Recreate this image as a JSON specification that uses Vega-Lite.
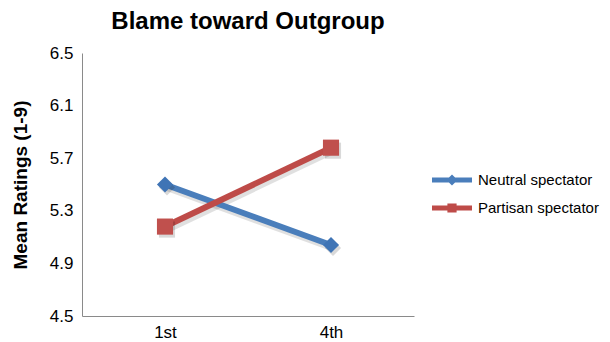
{
  "$schema": "https://vega.github.io/schema/vega-lite/v6.json",
  "width": 332,
  "height": 263,
  "autosize": {"type": "none"},
  "padding": {"left": 82, "top": 53, "right": 196, "bottom": 26},
  "background": "white",
  "config": {
    "font": "Liberation Sans",
    "view": {"stroke": null},
    "axis": {
      "domainColor": "#8a8a8a",
      "domainWidth": 1,
      "ticks": false,
      "grid": false,
      "labelColor": "#000000",
      "labelFont": "Liberation Sans",
      "titleColor": "#000000"
    }
  },
  "title": {
    "text": "Blame toward Outgroup",
    "fontSize": 24,
    "fontWeight": "bold",
    "font": "Liberation Sans",
    "color": "#000000",
    "anchor": "middle",
    "offset": 10
  },
  "data": {
    "values": [
      {"round": "1st", "group": "Neutral spectator", "rating": 5.50},
      {"round": "4th", "group": "Neutral spectator", "rating": 5.04},
      {"round": "1st", "group": "Partisan spectator", "rating": 5.18},
      {"round": "4th", "group": "Partisan spectator", "rating": 5.78}
    ]
  },
  "encoding": {
    "x": {
      "field": "round",
      "type": "ordinal",
      "scale": {"padding": 0.5},
      "axis": {
        "title": null,
        "labelAngle": 0,
        "labelFontSize": 17,
        "labelPadding": 8
      }
    },
    "y": {
      "field": "rating",
      "type": "quantitative",
      "scale": {"domain": [4.5, 6.5], "nice": false, "zero": false},
      "axis": {
        "title": "Mean Ratings (1-9)",
        "titleFontSize": 19,
        "titleFontWeight": "bold",
        "titlePadding": 19,
        "values": [4.5, 4.9, 5.3, 5.7, 6.1, 6.5],
        "format": ".1f",
        "labelFontSize": 17,
        "labelPadding": 9
      }
    }
  },
  "layer": [
    {
      "mark": {"type": "line", "strokeWidth": 7, "color": "#000000", "opacity": 0.12, "xOffset": 2, "yOffset": 3},
      "encoding": {"detail": {"field": "group"}}
    },
    {
      "mark": {"type": "line", "strokeWidth": 6},
      "encoding": {
        "color": {
          "field": "group",
          "type": "nominal",
          "scale": {"domain": ["Neutral spectator", "Partisan spectator"], "range": ["#4A7EBB", "#BE4B48"]},
          "legend": null
        }
      }
    },
    {
      "mark": {"type": "point", "filled": true, "size": 260, "color": "#000000", "opacity": 0.15, "xOffset": 2, "yOffset": 3},
      "encoding": {
        "shape": {
          "field": "group",
          "type": "nominal",
          "scale": {"domain": ["Neutral spectator", "Partisan spectator"], "range": ["diamond", "square"]},
          "legend": null
        }
      }
    },
    {
      "mark": {"type": "point", "filled": true, "opacity": 1, "size": 260},
      "encoding": {
        "color": {
          "field": "group",
          "type": "nominal",
          "scale": {"domain": ["Neutral spectator", "Partisan spectator"], "range": ["#3F74B5", "#C0504D"]},
          "legend": null
        },
        "shape": {
          "field": "group",
          "type": "nominal",
          "scale": {"domain": ["Neutral spectator", "Partisan spectator"], "range": ["diamond", "square"]},
          "legend": null
        }
      }
    },
    {
      "mark": {"type": "point", "filled": true, "opacity": 0},
      "encoding": {
        "fill": {
          "field": "group",
          "type": "nominal",
          "scale": {"domain": ["Neutral spectator", "Partisan spectator"], "range": ["#4A7EBB", "#BE4B48"]},
          "legend": {
            "title": null,
            "orient": "none",
            "legendX": 350,
            "legendY": 107,
            "symbolSize": 1600,
            "symbolOpacity": 1,
            "symbolStrokeWidth": 0,
            "labelFontSize": 15,
            "labelColor": "#000000",
            "labelOffset": 6,
            "rowPadding": -4
          }
        },
        "shape": {
          "field": "group",
          "type": "nominal",
          "scale": {
            "domain": ["Neutral spectator", "Partisan spectator"],
            "range": [
              "M-1,-0.13L1,-0.13L1,0.13L-1,0.13Z M0,-0.28L0.28,0L0,0.28L-0.28,0Z",
              "M-1,-0.13L1,-0.13L1,0.13L-1,0.13Z M-0.23,-0.23L0.23,-0.23L0.23,0.23L-0.23,0.23Z"
            ]
          },
          "legend": {
            "title": null,
            "orient": "none",
            "legendX": 350,
            "legendY": 107,
            "symbolSize": 1600,
            "symbolOpacity": 1,
            "symbolStrokeWidth": 0,
            "labelFontSize": 15,
            "labelColor": "#000000",
            "labelOffset": 6,
            "rowPadding": -4
          }
        }
      }
    }
  ],
  "resolve": {"scale": {"shape": "independent", "color": "independent", "fill": "independent"}}
}
